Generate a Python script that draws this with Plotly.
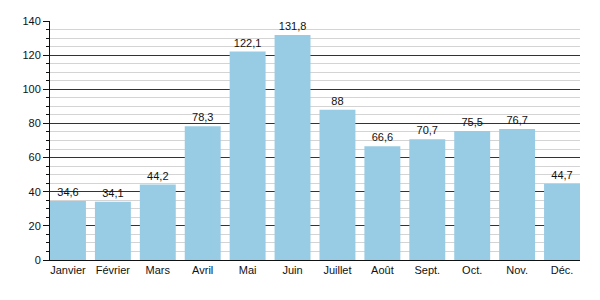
import plotly.graph_objects as go

months = ["Janvier", "Février", "Mars", "Avril", "Mai", "Juin", "Juillet",
          "Août", "Sept.", "Oct.", "Nov.", "Déc."]
values = [34.6, 34.1, 44.2, 78.3, 122.1, 131.8, 88, 66.6, 70.7, 75.5, 76.7, 44.7]
labels = [("%g" % v).replace(".", ",") for v in values]

fig = go.Figure(go.Bar(
    x=list(range(len(months))), y=values, text=labels,
    textposition="outside", cliponaxis=False,
    textfont=dict(size=11, color="#111"),
    marker=dict(color="#98CBE4", line=dict(width=0)),
    width=0.8,
))

fig.update_layout(
    width=600, height=300,
    margin=dict(l=50, r=20, t=21, b=40),
    paper_bgcolor="white", plot_bgcolor="white",
    font=dict(family="Liberation Sans, Arial, sans-serif", size=11, color="#111"),
    showlegend=False,
)
fig.update_xaxes(
    range=[-0.4, 11.4], tickmode="array",
    tickvals=list(range(len(months))), ticktext=months,
    showline=True, linecolor="#111", linewidth=1,
    showgrid=False, ticks="", zeroline=False,
    tickfont=dict(size=11),
)
fig.update_yaxes(
    range=[0, 140], dtick=20, showline=True, linecolor="#111", linewidth=1,
    ticks="outside", ticklen=6, tickcolor="#111",
    showgrid=True, gridcolor="#333", gridwidth=1,
    zeroline=False,
    minor=dict(dtick=5, showgrid=True, gridcolor="#d4d4d4", gridwidth=1,
               ticks="outside", ticklen=3, tickcolor="#111"),
    tickfont=dict(size=11),
)

fig.write_html("out.html")
